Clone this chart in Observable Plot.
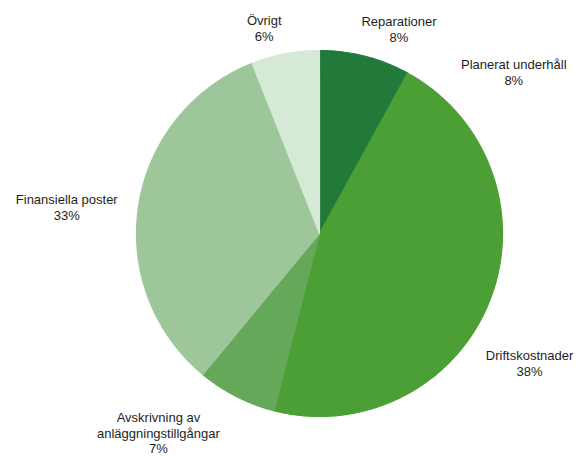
<!DOCTYPE html>
<html>
<head>
<meta charset="utf-8">
<script src="https://cdn.jsdelivr.net/npm/d3@7"></script>
<script src="https://cdn.jsdelivr.net/npm/@observablehq/plot@0.6"></script>
<style>
  html, body { margin: 0; padding: 0; background: #fff; }
  #chart svg { display: block; }
</style>
</head>
<body>
<div id="chart"></div>
<script>
// ---- data ----
const categories = ["Reparationer", "Planerat underhåll", "Driftskostnader", "Avskrivning av anläggningstillgångar", "Finansiella poster", "Övrigt"];
const labelTexts = ["Reparationer", "Planerat underhåll", "Driftskostnader", "Avskrivning av\nanläggningstillgångar", "Finansiella poster", "Övrigt"];
const shares = [8, 8, 38, 7, 33, 6];
const sliceColors = ["#217a3a", "#4b9f35", "#4b9f35", "#66a85a", "#9dc79b", "#d6e9d7"];

// ---- layout ----
const W = 579, H = 456;
const cx = 319, cy = 233, R = 183;
// label offsets (px) from the slice's mid-arc point on the rim
const labelNudge = [[34, -27], [69, -28], [62, 22], [-78, 36], [-72, 2], [-21, -26]];

const rows = categories.map((c, i) => ({cat: c, label: labelTexts[i], share: shares[i], i}));
const arcs = d3.pie().sort(null).value(d => d.share)(rows);

// polygon vertices of each slice, in radius units
const poly = [];
for (const a of arcs) {
  const n = Math.max(2, Math.ceil((a.endAngle - a.startAngle) / (Math.PI / 360)));
  poly.push({cat: a.data.cat, x: 0, y: 0});
  for (let k = 0; k <= n; k++) {
    const t = a.startAngle + (a.endAngle - a.startAngle) * k / n;
    poly.push({cat: a.data.cat, x: Math.sin(t), y: -Math.cos(t)});
  }
}

const labels = arcs.map((a, i) => {
  const m = (a.startAngle + a.endAngle) / 2;
  return {
    text: `${a.data.label}\n${a.data.share}%`,
    x: Math.sin(m) + labelNudge[i][0] / R,
    y: -Math.cos(m) + labelNudge[i][1] / R
  };
});

const chart = Plot.plot({
  width: W,
  height: H,
  margin: 0,
  x: {domain: [-cx / R, (W - cx) / R], range: [0, W], axis: null},
  y: {domain: [-cy / R, (H - cy) / R], range: [0, H], axis: null},
  color: {domain: categories, range: sliceColors},
  style: {fontFamily: "Liberation Sans, Arial, sans-serif", background: "#fff"},
  marks: [
    Plot.line(poly, {x: "x", y: "y", z: "cat", fill: "cat", stroke: "cat", strokeWidth: 1.2, strokeLinejoin: "round", curve: "linear-closed"}),
    Plot.text(labels, {x: "x", y: "y", text: "text", fontSize: 13, lineHeight: 1.22, fill: "#1e1e1e", textAnchor: "middle"})
  ]
});
document.getElementById("chart").appendChild(chart);
</script>
</body>
</html>
